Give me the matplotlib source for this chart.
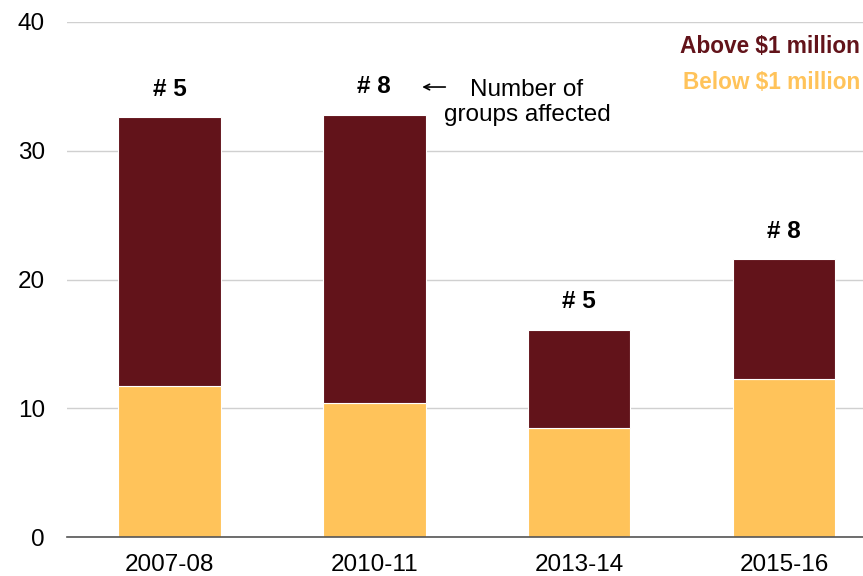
import matplotlib.pyplot as plt
import numpy as np

plt.rcParams['font.family'] = ['Liberation Sans', 'DejaVu Sans']

# data ($b)
years = ['2007-08', '2010-11', '2013-14', '2015-16']
below = [11.7, 10.4, 8.5, 12.3]
above = [20.9, 22.4, 7.6, 9.3]
groups = [5, 8, 5, 8]

DARK = '#62131a'
GOLD = '#ffc35a'
FS = 17.5

fig = plt.figure(figsize=(8.63, 5.76), dpi=100)
ax = fig.add_axes([67/863, 1-537/576, 1-67/863, (537-22)/576])

x = np.arange(len(years))
ax.bar(x, below, 0.5, color=GOLD, edgecolor='white', linewidth=0.8, zorder=2)
ax.bar(x, above, 0.5, bottom=below, color=DARK, edgecolor='white', linewidth=0.8, zorder=2)

tot = np.array(below) + np.array(above)
for i in range(len(years)):
    ax.annotate('# %d' % groups[i], (x[i], tot[i]), xytext=(0, 20), textcoords='offset points',
                ha='center', va='center', fontsize=FS, fontweight='bold')

# note next to the second bar
ax.annotate('', xy=(1.22, 34.95), xytext=(1.36, 34.95),
            arrowprops=dict(arrowstyle='->', color='black', lw=1.2))
ax.text(1.745, 33.75, 'Number of\ngroups affected', ha='center', va='center',
        fontsize=FS, linespacing=1.2)

# legend as coloured text, kept inside the right edge
ax.text(0.996, 38.1, 'Above $1 million', color=DARK, fontsize=16.3, fontweight='bold',
        ha='right', va='center', transform=ax.get_yaxis_transform())
ax.text(0.996, 35.3, 'Below $1 million', color=GOLD, fontsize=16.3, fontweight='bold',
        ha='right', va='center', transform=ax.get_yaxis_transform())

ax.set_ylim(0, 40)
ax.set_xlim(-0.5, 3.385)
ax.set_yticks([0, 10, 20, 30, 40])
ax.set_xticks(x)
ax.set_xticklabels(years)
ax.tick_params(axis='both', length=0, labelsize=FS)
ax.tick_params(axis='y', pad=16)
ax.tick_params(axis='x', pad=12)
ax.yaxis.grid(True, color='#d0d0d0', linewidth=1, zorder=0)
ax.set_axisbelow(True)
for s in ['top', 'right', 'left']:
    ax.spines[s].set_visible(False)
ax.spines['bottom'].set_color('#555555')
ax.spines['bottom'].set_linewidth(1.2)

fig.savefig('out.png', dpi=100)
